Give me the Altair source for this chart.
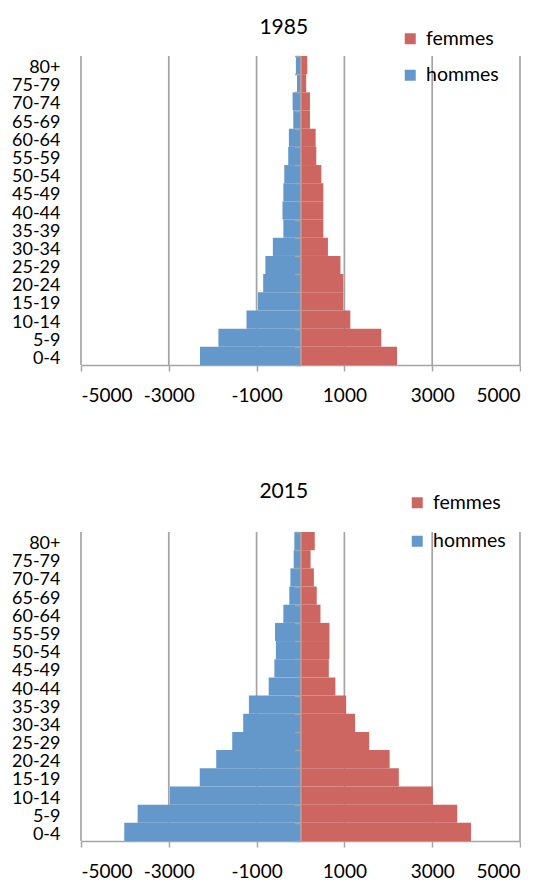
import altair as alt
import pandas as pd

ages = ["0-4", "5-9", "10-14", "15-19", "20-24", "25-29", "30-34", "35-39", "40-44",
        "45-49", "50-54", "55-59", "60-64", "65-69", "70-74", "75-79", "80+"]
hommes_1985 = [2290, 1870, 1230, 970, 850, 800, 630, 390, 410, 390, 370, 280, 265, 165, 180, 80, 105]
femmes_1985 = [2200, 1840, 1135, 975, 975, 910, 625, 520, 520, 520, 475, 360, 345, 215, 215, 130, 155]
hommes_2015 = [4015, 3710, 2975, 2295, 1920, 1555, 1305, 1175, 725, 595, 560, 580, 390, 255, 230, 155, 140]
femmes_2015 = [3885, 3570, 3015, 2240, 2030, 1565, 1245, 1040, 795, 645, 660, 660, 455, 370, 305, 230, 325]
years = ["1985", "2015"]
sexes = ["femmes", "hommes"]
x_ticks = [-5000, -3000, -1000, 1000, 3000, 5000]

RED = "#CD6660"
BLUE = "#6497CA"
GRID = "#A4A4A4"
FONT = "Lato"
W, H = 439, 309


def pyramid(year, hommes, femmes, title_y, leg_x, leg_y, leg_gap):
    df = pd.DataFrame({
        "age": ages + ages,
        "sexe": ["hommes"] * len(ages) + ["femmes"] * len(ages),
        "value": [-v for v in hommes] + list(femmes),
    })
    order = ages[::-1]
    ysc = alt.Scale(domain=order, paddingInner=0, paddingOuter=0)
    xsc = alt.Scale(domain=[-5000, 5000], nice=False)
    x_axis = alt.Axis(values=x_ticks, labelExpr="'' + datum.value", grid=False,
                      domainColor=GRID, domainWidth=1.5, tickColor=GRID,
                      tickSize=6, tickWidth=1.5, labelFont=FONT,
                      labelFontSize=19, labelColor="#000", labelPadding=15,
                      title=None)
    grid = alt.Chart(pd.DataFrame({"g": x_ticks})).mark_rule(
        color=GRID, strokeWidth=1.7
    ).encode(x=alt.X("g:Q", scale=xsc, axis=x_axis))
    bars = alt.Chart(df).mark_bar().encode(
        x=alt.X("value:Q", scale=xsc, axis=x_axis),
        y=alt.Y("age:N", sort=order, scale=ysc,
                axis=alt.Axis(domain=False, ticks=False, grid=False, labelFont=FONT,
                              labelFontSize=18, labelColor="#000", labelPadding=21,
                              labelOffset=3, title=None)),
        color=alt.Color("sexe:N", scale=alt.Scale(domain=sexes, range=[RED, BLUE]),
                        legend=alt.Legend(orient="none", legendX=leg_x, legendY=leg_y,
                                          title=None, symbolType="square", symbolSize=121,
                                          symbolStrokeWidth=0, symbolOpacity=1,
                                          labelFont=FONT, labelFontSize=19.5,
                                          labelColor="#000", rowPadding=leg_gap,
                                          labelOffset=6, padding=0)),
    )
    axis0 = alt.Chart(df).mark_point(opacity=0).encode(
        y=alt.Y("age:N", sort=order, scale=ysc,
                axis=alt.Axis(orient="left", offset=-(W / 2), labels=False, domain=True,
                              domainColor=GRID, domainWidth=1.5, ticks=True,
                              tickBand="extent", tickColor=GRID, tickSize=6,
                              tickWidth=1.5, grid=False, title=None, zindex=1)),
    )
    title = alt.Chart(pd.DataFrame({"t": [year]})).mark_text(
        font=FONT, fontSize=21, align="center", baseline="middle", color="#000"
    ).encode(text="t:N", x=alt.value(202.8), y=alt.value(title_y))
    return alt.layer(grid, bars, axis0, title).resolve_axis(y="independent").properties(
        width=W, height=H)


c1 = pyramid(years[0], hommes_1985, femmes_1985, -28.4, 319.5, -27, 15.5)
c2 = pyramid(years[1], hommes_2015, femmes_2015, -40.3, 326.5, -39, 17.5)

chart = alt.vconcat(c1, c2, spacing=75).resolve_scale(
    color="independent", x="independent", y="independent"
).resolve_legend(color="independent").properties(
    padding={"left": 3, "top": 8, "right": 0, "bottom": 0}
).configure_view(stroke=None)

chart.save("out.html", embed_options={"renderer": "svg", "actions": False})
